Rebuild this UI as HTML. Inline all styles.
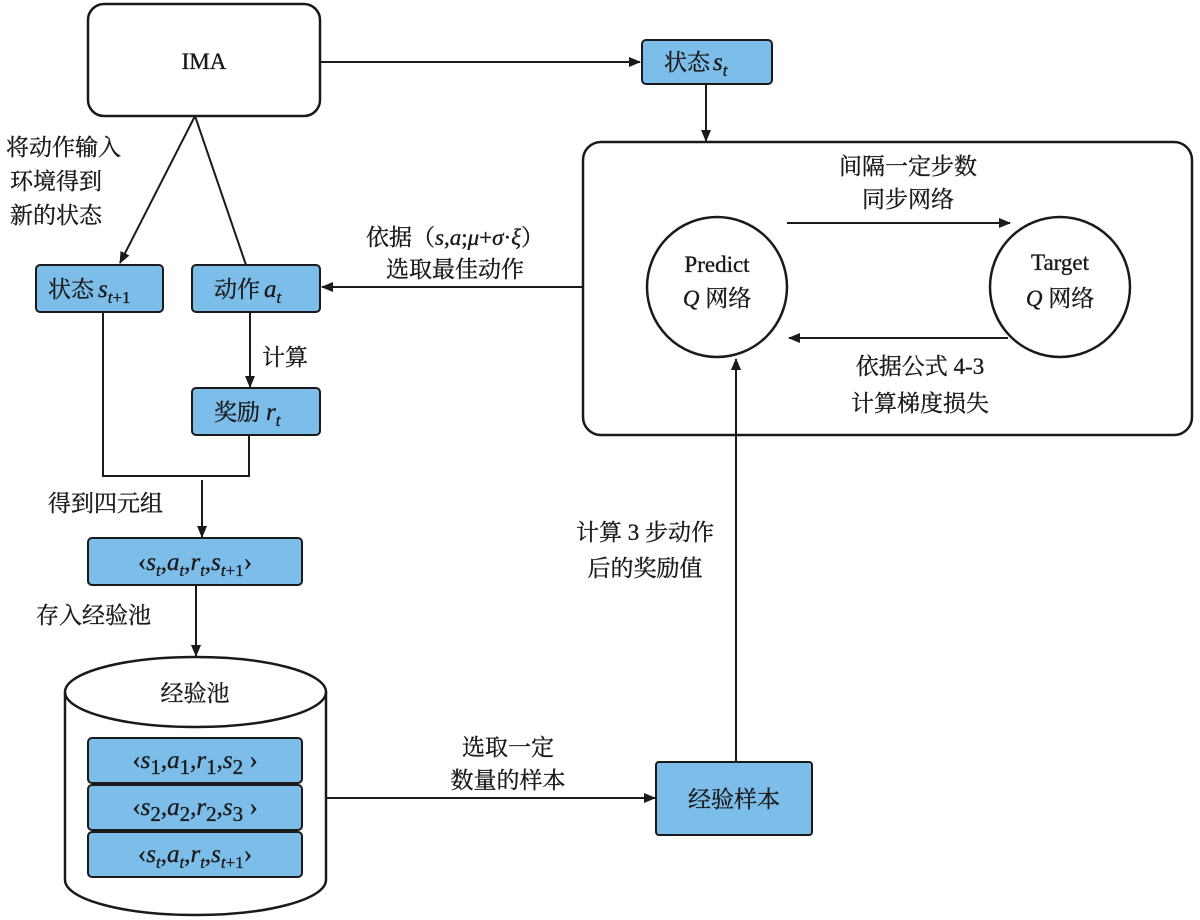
<!DOCTYPE html>
<html><head><meta charset="utf-8"><style>
html,body{margin:0;padding:0;background:#fff;}
svg{display:block;}
text{font-family:"Liberation Serif","Noto Serif CJK SC","Noto Sans CJK SC",serif;fill:#1a1a1a;font-size:23px;stroke:#1a1a1a;stroke-width:0.35;}
.i{font-style:italic;}
.q{font-size:25px;}
</style></head><body>
<svg width="1200" height="920" viewBox="0 0 1200 920" xmlns="http://www.w3.org/2000/svg">
<defs>
<marker id="a" markerWidth="12" markerHeight="10" refX="11" refY="5" orient="auto" markerUnits="userSpaceOnUse">
<path d="M0,0 L12,5 L0,10 z" fill="#1a1a1a"/></marker>
</defs>
<g stroke="#1a1a1a" stroke-width="2" fill="none">
<rect x="88" y="4" width="232" height="112" rx="16" stroke-width="2.5"/>
<rect x="583" y="142" width="609" height="293" rx="18" stroke-width="2.5"/>
<circle cx="717" cy="287" r="70" stroke-width="2.5"/>
<circle cx="1060" cy="287" r="70" stroke-width="2.5"/>
<line x1="320" y1="62" x2="640" y2="62" marker-end="url(#a)"/>
<line x1="706" y1="84" x2="706" y2="141" marker-end="url(#a)"/>
<line x1="787" y1="223" x2="1010" y2="223" marker-end="url(#a)"/>
<line x1="1008" y1="338" x2="789" y2="338" marker-end="url(#a)"/>
<line x1="583" y1="287" x2="322" y2="287" marker-end="url(#a)"/>
<line x1="195" y1="116" x2="120" y2="263" marker-end="url(#a)"/>
<line x1="195" y1="116" x2="246" y2="265"/>
<line x1="250" y1="312" x2="250" y2="387" marker-end="url(#a)"/>
<polyline points="103,312 103,476 249,476 249,435"/>
<line x1="202" y1="480" x2="202" y2="537" marker-end="url(#a)"/>
<line x1="196" y1="585" x2="196" y2="656" marker-end="url(#a)"/>
<line x1="326" y1="798" x2="655" y2="798" marker-end="url(#a)"/>
<line x1="736" y1="762" x2="736" y2="359" marker-end="url(#a)"/>
<path d="M65,692 L65,880 A130.5,35 0 0 0 326,880 L326,692" stroke-width="2.5"/>
<ellipse cx="195.5" cy="692" rx="130.5" ry="35" stroke-width="2.5"/>
</g>
<g fill="#7dbde9" stroke="#1a1a1a" stroke-width="2">
<rect x="642" y="40" width="130" height="44" rx="4"/>
<rect x="36" y="265" width="127" height="47" rx="4"/>
<rect x="192" y="265" width="128" height="47" rx="4"/>
<rect x="192" y="388" width="128" height="47" rx="4"/>
<rect x="88" y="538" width="214" height="47" rx="4"/>
<rect x="88" y="738" width="214" height="45" rx="4"/>
<rect x="88" y="785" width="214" height="45" rx="4"/>
<rect x="88" y="832" width="214" height="45" rx="4"/>
<rect x="656" y="762" width="156" height="73" rx="3"/>
</g>
<text x="204" y="69" text-anchor="middle">IMA</text>
<text x="664" y="70">状态<tspan class="i" dx="3" font-size="25">s</tspan><tspan class="i" font-size="17" dy="6">t</tspan></text>
<text x="908" y="174" text-anchor="middle">间隔一定步数</text>
<text x="908" y="207" text-anchor="middle">同步网络</text>
<text x="920" y="374" text-anchor="middle">依据公式 4-3</text>
<text x="920" y="411" text-anchor="middle">计算梯度损失</text>
<text x="717" y="272" text-anchor="middle">Predict</text>
<text x="717" y="306" text-anchor="middle"><tspan class="i">Q</tspan> 网络</text>
<text x="1060" y="270" text-anchor="middle">Target</text>
<text x="1060" y="306" text-anchor="middle"><tspan class="i">Q</tspan> 网络</text>
<text x="455" y="245" text-anchor="middle">依据（<tspan class="i">s</tspan>,<tspan class="i">a</tspan>;<tspan class="i">μ</tspan>+<tspan class="i">σ</tspan>·<tspan class="i">ξ</tspan>）</text>
<text x="455" y="277" text-anchor="middle">选取最佳动作</text>
<text x="6" y="155">将动作输入</text>
<text x="10" y="189">环境得到</text>
<text x="10" y="223">新的状态</text>
<text x="48" y="297">状态<tspan class="i" dx="4" font-size="25">s</tspan><tspan class="i" font-size="17" dy="6">t</tspan><tspan font-size="17">+1</tspan></text>
<text x="214" y="297">动作<tspan class="i" dx="4" font-size="25">a</tspan><tspan class="i" font-size="17" dy="6">t</tspan></text>
<text x="262" y="365">计算</text>
<text x="214" y="420">奖励<tspan class="i" dx="6" font-size="25">r</tspan><tspan class="i" font-size="17" dy="6">t</tspan></text>
<text x="48" y="511">得到四元组</text>
<text x="195" y="570" text-anchor="middle" class="q">‹<tspan class="i">s</tspan><tspan class="i" font-size="17" dy="6">t</tspan><tspan dy="-6">,</tspan><tspan class="i">a</tspan><tspan class="i" font-size="17" dy="6">t</tspan><tspan dy="-6">,</tspan><tspan class="i">r</tspan><tspan class="i" font-size="17" dy="6">t</tspan><tspan dy="-6">,</tspan><tspan class="i">s</tspan><tspan class="i" font-size="17" dy="6">t</tspan><tspan font-size="17">+1</tspan><tspan dy="-6">›</tspan></text>
<text x="36" y="623">存入经验池</text>
<text x="195" y="701" text-anchor="middle">经验池</text>
<text x="195" y="768" text-anchor="middle" class="q">‹<tspan class="i">s</tspan><tspan font-size="21" dy="6">1</tspan><tspan dy="-6">,</tspan><tspan class="i">a</tspan><tspan font-size="21" dy="6">1</tspan><tspan dy="-6">,</tspan><tspan class="i">r</tspan><tspan font-size="21" dy="6">1</tspan><tspan dy="-6">,</tspan><tspan class="i">s</tspan><tspan font-size="21" dy="6">2</tspan><tspan dy="-6"> ›</tspan></text>
<text x="195" y="815" text-anchor="middle" class="q">‹<tspan class="i">s</tspan><tspan font-size="21" dy="6">2</tspan><tspan dy="-6">,</tspan><tspan class="i">a</tspan><tspan font-size="21" dy="6">2</tspan><tspan dy="-6">,</tspan><tspan class="i">r</tspan><tspan font-size="21" dy="6">2</tspan><tspan dy="-6">,</tspan><tspan class="i">s</tspan><tspan font-size="21" dy="6">3</tspan><tspan dy="-6"> ›</tspan></text>
<text x="195" y="862" text-anchor="middle" class="q">‹<tspan class="i">s</tspan><tspan class="i" font-size="17" dy="6">t</tspan><tspan dy="-6">,</tspan><tspan class="i">a</tspan><tspan class="i" font-size="17" dy="6">t</tspan><tspan dy="-6">,</tspan><tspan class="i">r</tspan><tspan class="i" font-size="17" dy="6">t</tspan><tspan dy="-6">,</tspan><tspan class="i">s</tspan><tspan class="i" font-size="17" dy="6">t</tspan><tspan font-size="17">+1</tspan><tspan dy="-6">›</tspan></text>
<text x="508" y="755" text-anchor="middle">选取一定</text>
<text x="508" y="788" text-anchor="middle">数量的样本</text>
<text x="734" y="807" text-anchor="middle">经验样本</text>
<text x="645" y="540" text-anchor="middle">计算 3 步动作</text>
<text x="645" y="576" text-anchor="middle">后的奖励值</text>
</svg>
</body></html>
